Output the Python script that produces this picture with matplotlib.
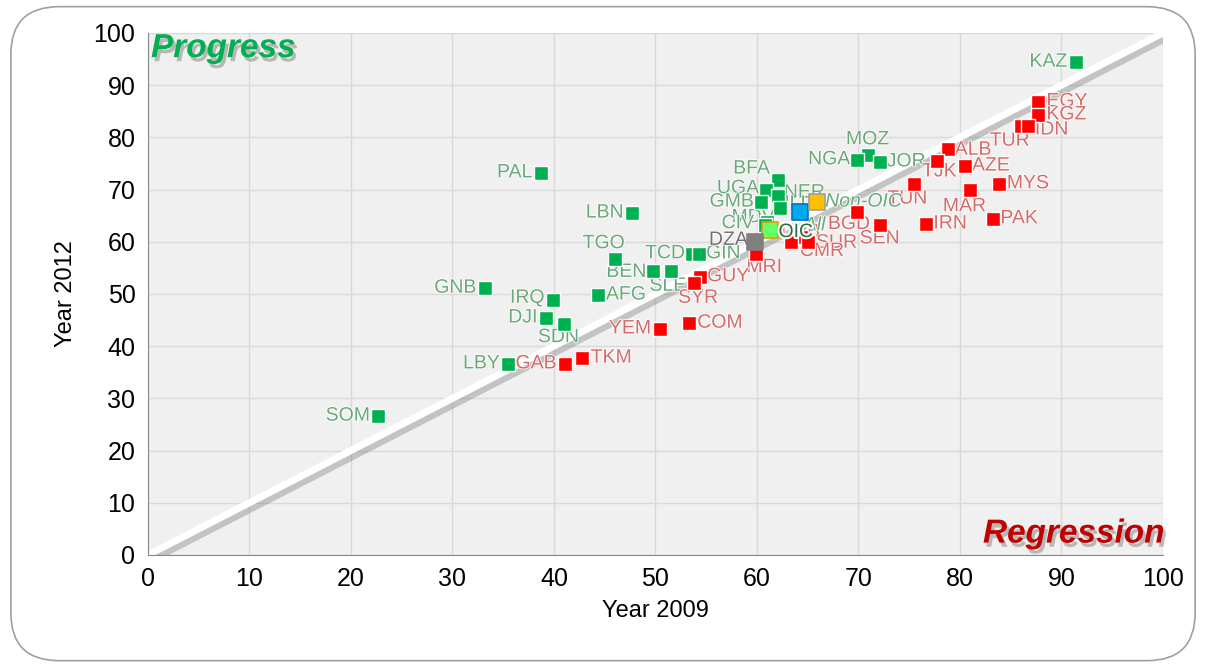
import matplotlib
matplotlib.use("Agg")
import matplotlib.pyplot as plt
import matplotlib.patheffects as pe
from matplotlib.patches import FancyBboxPatch

plt.rcParams['font.family'] = ['Liberation Sans Narrow', 'Liberation Sans', 'DejaVu Sans']

# countries that progressed (above the diagonal)
up_codes = ['KAZ', 'PAL', 'LBN', 'TGO', 'BEN', 'SLE', 'TCD', 'GIN', 'AFG', 'GNB', 'IRQ',
            'DJI', 'SDN', 'LBY', 'SOM', 'MOZ', 'NGA', 'JOR', 'BFA', 'UGA', 'NER', 'GMB',
            'MLI', 'MDV', 'CIV']
up_2009 = [91.4, 38.7, 47.7, 46.0, 49.8, 51.5, 53.6, 54.3, 44.3, 33.2, 39.9,
           39.2, 41.0, 35.5, 22.7, 70.9, 69.9, 72.1, 62.1, 60.9, 62.1, 60.4,
           62.3, 61.0, 60.8]
up_2012 = [94.4, 73.2, 65.5, 56.7, 54.4, 54.4, 57.7, 57.7, 49.8, 51.1, 48.9,
           45.4, 44.3, 36.6, 26.6, 76.6, 75.7, 75.3, 71.8, 69.9, 68.8, 67.6,
           66.4, 63.8, 63.2]

# countries that regressed (below the diagonal)
down_codes = ['EGY', 'KGZ', 'TUR', 'IDN', 'ALB', 'TJK', 'AZE', 'MYS', 'MAR', 'PAK', 'IRN',
              'TUN', 'SEN', 'BGD', 'UZB', 'SUR', 'CMR', 'MRI', 'GUY', 'SYR', 'COM', 'YEM',
              'TKM', 'GAB']
down_2009 = [87.7, 87.7, 86.0, 86.7, 78.8, 77.7, 80.5, 83.8, 81.0, 83.3, 76.7,
             75.5, 72.1, 69.9, 64.3, 65.0, 63.4, 59.9, 54.4, 53.8, 53.3, 50.4,
             42.8, 41.1]
down_2012 = [86.8, 84.3, 82.2, 82.2, 77.8, 75.5, 74.5, 71.1, 69.9, 64.4, 63.4,
             71.1, 63.2, 65.7, 61.0, 60.0, 60.0, 57.7, 53.3, 52.1, 44.4, 43.3,
             37.7, 36.6]

# group averages
grp_names = ['All', 'Non-OIC', 'OIC', 'DZA']
grp_2009 = [64.2, 65.9, 61.3, 59.8]
grp_2012 = [65.7, 67.6, 62.3, 60.0]

# label offsets in points (dx, dy, ha)
R, L = 'left', 'right'
lab_pos = {
    'KAZ': (-6, 0, L), 'PAL': (-6, 0, L), 'LBN': (-6, 0, L), 'TGO': (-8, 11, 'center'),
    'BEN': (-5, -1, L), 'SLE': (-2, -11, 'center'), 'TCD': (-5, 0, L), 'GIN': (5, 0, R),
    'AFG': (6, 0, R), 'GNB': (-6, 0, L), 'IRQ': (-6, 1, L), 'DJI': (-6, 0, L),
    'SDN': (-4, -10, 'center'), 'LBY': (-6, 0, L), 'SOM': (-6, 0, L), 'MOZ': (0, 11, 'center'),
    'NGA': (-5, 0, L), 'JOR': (5, 0, R), 'BFA': (-6, 8, L), 'UGA': (-5, 1, L),
    'NER': (4, 2, R), 'GMB': (-5, 0, L), 'MLI': (-5, 3, R), 'MDV': (-10, 3, 'center'),
    'CIV': (-8, 1, L),
    'EGY': (6, 0, R), 'KGZ': (6, 0, R), 'TUR': (-8, -11, 'center'), 'IDN': (5, -3, R),
    'ALB': (5, -1, R), 'TJK': (2, -8, 'center'), 'AZE': (5, 0, R), 'MYS': (6, 0, R),
    'MAR': (-4, -12, 'center'), 'PAK': (5, 0, R), 'IRN': (5, 0, R), 'TUN': (-5, -11, 'center'),
    'SEN': (0, -10, 'center'), 'BGD': (-6, -9, 'center'), 'UZB': (0, 3, 'center'),
    'SUR': (6, -1, R), 'CMR': (6, -7, R), 'MRI': (6, -10, 'center'), 'GUY': (5, 0, R),
    'SYR': (3, -11, 'center'), 'COM': (6, 0, R), 'YEM': (-6, 0, L), 'TKM': (6, 0, R),
    'GAB': (-6, 0, L),
}

fig = plt.figure(figsize=(12.06, 6.66), dpi=100)
frame = FancyBboxPatch((0.009, 0.008), 0.982, 0.982, boxstyle='round,pad=0,rounding_size=0.04',
                       transform=fig.transFigure, fc='white', ec='#a0a0a0', lw=1.2,
                       mutation_aspect=1.8, zorder=-10)
fig.patches.append(frame)
ax = fig.add_axes([0.1227, 0.1667, 0.8416, 0.7838])
ax.set_facecolor('#f0f0f0')
ax.set_xlim(0, 100)
ax.set_ylim(0, 100)
ax.set_xticks(range(0, 101, 10))
ax.set_yticks(range(0, 101, 10))
ax.grid(True, color='#d9d9d9', lw=1)
ax.set_axisbelow(True)
for s in ['top', 'right']:
    ax.spines[s].set_visible(False)
ax.spines['left'].set_color('#888888')
ax.spines['bottom'].set_color('#888888')
ax.tick_params(length=0, labelsize=18, pad=9)
ax.set_xlabel('Year 2009', fontsize=17, family='Liberation Sans', labelpad=6)
ax.set_ylabel('Year 2012', fontsize=17, family='Liberation Sans', labelpad=12)
for t in ax.get_xticklabels() + ax.get_yticklabels():
    t.set_family('Liberation Sans')

# diagonal with soft shadow
ax.plot([0, 100], [0, 100], color='white', lw=5, zorder=2, clip_on=True,
        path_effects=[pe.SimpleLineShadow(offset=(1.5, -3), shadow_color='#707070', alpha=0.35, linewidth=7),
                      pe.Normal()])

stroke = [pe.withStroke(linewidth=1.2, foreground='white')]

ax.scatter(up_2009, up_2012, marker='s', s=100, c='#00b050', edgecolors='white', linewidths=1, zorder=4)
ax.scatter(down_2009, down_2012, marker='s', s=100, c='#ff0000', edgecolors='white', linewidths=1, zorder=4)

for code, x, y in zip(up_codes, up_2009, up_2012):
    dx, dy, ha = lab_pos[code]
    ax.annotate(code, (x, y), xytext=(dx, dy), textcoords='offset points', ha=ha, va='center',
                fontsize=14, color='#6aa87a', zorder=3, path_effects=stroke)
for code, x, y in zip(down_codes, down_2009, down_2012):
    dx, dy, ha = lab_pos[code]
    ax.annotate(code, (x, y), xytext=(dx, dy), textcoords='offset points', ha=ha, va='center',
                fontsize=14, color='#d46a6a', zorder=3, path_effects=stroke)

# group markers
grp_face = ['#00a8f0', '#ffc000', '#66ff66', '#808080']
grp_edge = ['#0070c0', '#a0a0a0', '#e0a000', '#808080']
for name, x, y, fc, ec in zip(grp_names, grp_2009, grp_2012, grp_face, grp_edge):
    ax.scatter([x], [y], marker='s', s=130, c=fc, edgecolors=ec, linewidths=1.2, zorder=5)
ax.annotate('All', (grp_2009[0], grp_2012[0]), xytext=(3, -10), textcoords='offset points',
            ha='left', va='center', fontsize=14, style='italic', color='#6aa87a', zorder=3, path_effects=stroke)
ax.annotate('Non-OIC', (grp_2009[1], grp_2012[1]), xytext=(6, 0), textcoords='offset points',
            ha='left', va='center', fontsize=14, style='italic', color='#6aa87a', zorder=3, path_effects=stroke)
ax.annotate('OIC', (grp_2009[2], grp_2012[2]), xytext=(6, -2), textcoords='offset points',
            ha='left', va='center', fontsize=14, color='#2e6b3a', zorder=6,
            path_effects=[pe.withStroke(linewidth=3, foreground='white')])
ax.annotate('DZA', (grp_2009[3], grp_2012[3]), xytext=(-5, 1), textcoords='offset points',
            ha='right', va='center', fontsize=14, color='#707070', zorder=3, path_effects=stroke)

ax.text(0.3, 97, 'Progress', fontsize=24, weight='bold', style='italic', color='#00b050',
        family='Liberation Sans', va='center', ha='left', zorder=7,
        path_effects=[pe.SimplePatchShadow(offset=(2, -3), shadow_rgbFace='#808080', alpha=0.5), pe.Normal()])
ax.text(100.2, 4, 'Regression', fontsize=24, weight='bold', style='italic', color='#c00000',
        family='Liberation Sans', va='center', ha='right', zorder=7,
        path_effects=[pe.SimplePatchShadow(offset=(2, -3), shadow_rgbFace='#808080', alpha=0.5), pe.Normal()])

fig.savefig('out.png', dpi=100)
